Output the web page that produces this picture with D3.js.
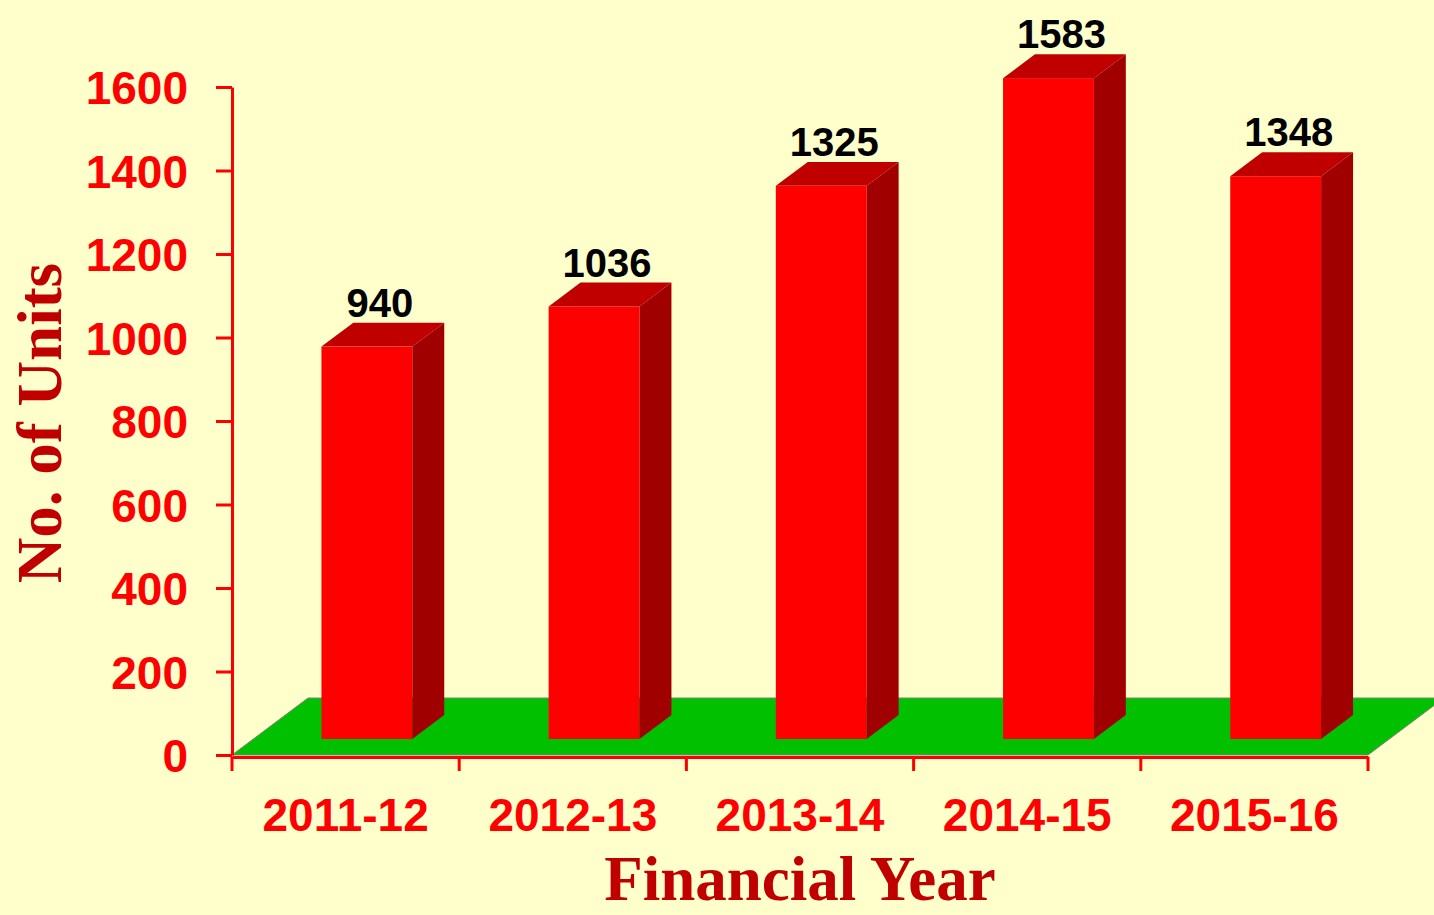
<!DOCTYPE html>
<html>
<head>
<meta charset="utf-8">
<script src="https://cdn.jsdelivr.net/npm/d3@7"></script>
<style>
  body { margin: 0; background: #FFFFCC; }
  svg { display: block; }
</style>
</head>
<body>
<div id="d3-container"></div>
<script>
/**
 * CONSTANTS AND GLOBALS
 * */
const width = 1434,
  height = 915;

// data
const years = ["2011-12", "2012-13", "2013-14", "2014-15", "2015-16"];
const units = [940, 1036, 1325, 1583, 1348];
const yTicks = [0, 200, 400, 600, 800, 1000, 1200, 1400, 1600];

const red = "#FF0000",
  darkRed = "#C00000";

// 3d look: floor depth and where the bars sit on it
const floorDx = 76, floorDy = -57;
const barFront = 0.28, barBack = 0.70;

const svg = d3.select("#d3-container")
  .append("svg")
  .attr("width", width)
  .attr("height", height)
  .style("background", "#FFFFCC");

const x = d3.scaleBand()
  .domain(years)
  .range([232, 1368])
  .paddingInner(0)
  .paddingOuter(0);

const y = d3.scaleLinear()
  .domain([0, 1600])
  .range([755, 87]);

const barW = x.bandwidth() * 0.4;

// floor
const x0 = x.range()[0], x1 = x.range()[1], y0 = y(0);
svg.append("path")
  .attr("d", `M${x0},${y0}L${x0 + floorDx},${y0 + floorDy}L${x1 + floorDx},${y0 + floorDy}L${x1},${y0}Z`)
  .attr("fill", "#00C000")
  .attr("stroke", "#808080")
  .attr("stroke-width", 1);

// bars
const fdx = floorDx * barFront, fdy = floorDy * barFront;
const bdx = floorDx * (barBack - barFront), bdy = floorDy * (barBack - barFront);

const bars = svg.selectAll(".bar")
  .data(years.map((d, i) => ({ year: d, value: units[i] })))
  .join("g")
  .attr("class", "bar")
  .attr("transform", d => `translate(${x(d.year) + x.bandwidth() / 2 - barW / 2 + fdx}, ${fdy})`);

bars.append("rect")
  .attr("x", 0)
  .attr("y", d => y(d.value))
  .attr("width", barW)
  .attr("height", d => y(0) - y(d.value))
  .attr("fill", red);

bars.append("path")
  .attr("d", d => `M0,${y(d.value)}L${bdx},${y(d.value) + bdy}L${barW + bdx},${y(d.value) + bdy}L${barW},${y(d.value)}Z`)
  .attr("fill", darkRed);

bars.append("path")
  .attr("d", d => `M${barW},${y(d.value)}L${barW + bdx},${y(d.value) + bdy}L${barW + bdx},${y(0) + bdy}L${barW},${y(0)}Z`)
  .attr("fill", "#A00000");

bars.append("text")
  .attr("x", barW / 2 + bdx / 2 - 3)
  .attr("y", d => y(d.value) + bdy - 6)
  .attr("text-anchor", "middle")
  .attr("font-family", "Liberation Sans, Arial, sans-serif")
  .attr("font-weight", "bold")
  .attr("font-size", 40)
  .attr("fill", "#000")
  .text(d => d.value);

// y axis
const yAxis = svg.append("g")
  .attr("transform", `translate(${x0},0)`)
  .call(d3.axisLeft(y).tickValues(yTicks).tickFormat(d3.format("d"))
    .tickSize(16).tickSizeOuter(0).tickPadding(28));

yAxis.select(".domain").attr("stroke", red).attr("stroke-width", 3);
yAxis.selectAll(".tick line").attr("stroke", red).attr("stroke-width", 3);
yAxis.selectAll(".tick text")
  .attr("fill", red)
  .attr("font-family", "Liberation Sans, Arial, sans-serif")
  .attr("font-weight", "bold")
  .attr("font-size", 46)
  .attr("dy", "0.36em");

// x axis
const xAxis = svg.append("g")
  .attr("transform", `translate(0,${y0 + 2})`)
  .call(d3.axisBottom(x).tickSize(0).tickSizeOuter(0).tickPadding(41));

xAxis.select(".domain").attr("stroke", red).attr("stroke-width", 3);
xAxis.selectAll(".tick text")
  .attr("fill", red)
  .attr("font-family", "Liberation Sans, Arial, sans-serif")
  .attr("font-weight", "bold")
  .attr("font-size", 46);

// category boundary ticks
xAxis.selectAll(".bound")
  .data(years.map(d => x(d)).concat([x1]))
  .join("line")
  .attr("class", "bound")
  .attr("x1", d => d)
  .attr("x2", d => d)
  .attr("y1", 0)
  .attr("y2", 14)
  .attr("stroke", red)
  .attr("stroke-width", 3);

// titles
svg.append("text")
  .attr("x", 800)
  .attr("y", 900)
  .attr("text-anchor", "middle")
  .attr("font-family", "Liberation Serif, Times New Roman, serif")
  .attr("font-weight", "bold")
  .attr("font-size", 63)
  .attr("fill", darkRed)
  .text("Financial Year");

svg.append("text")
  .attr("transform", "translate(61,423) rotate(-90)")
  .attr("text-anchor", "middle")
  .attr("font-family", "Liberation Serif, Times New Roman, serif")
  .attr("font-weight", "bold")
  .attr("font-size", 63)
  .attr("fill", darkRed)
  .text("No. of Units");
</script>
</body>
</html>
